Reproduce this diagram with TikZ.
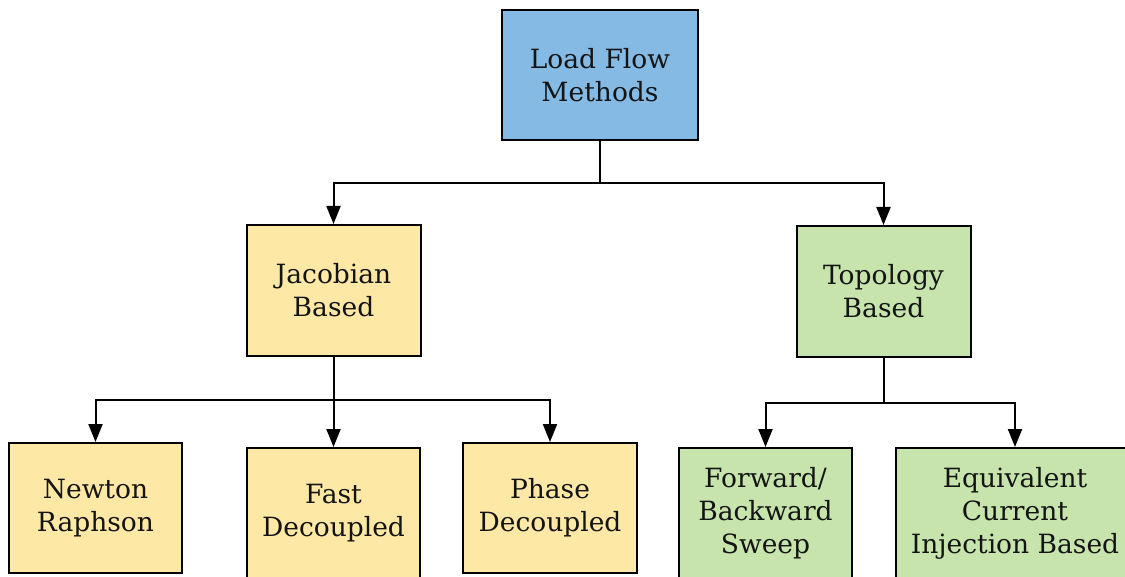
\documentclass[tikz,border=0pt]{standalone}
\usepackage{fontspec}
\setmainfont{DejaVu Serif}
\usetikzlibrary{arrows.meta}
\definecolor{cblue}{RGB}{133,186,228}
\definecolor{cyellow}{RGB}{254,232,166}
\definecolor{cgreen}{RGB}{198,228,171}
\definecolor{ctext}{RGB}{20,20,20}
\tikzset{
  box/.style={draw=black, line width=2pt, align=center, inner sep=0pt,
    font=\fontsize{26.5}{33}\selectfont, text=ctext},
  bluebox/.style={box, fill=cblue},
  yelbox/.style={box, fill=cyellow},
  grnbox/.style={box, fill=cgreen},
  conn/.style={line width=2pt, draw=black},
  arr/.style={conn, -{Triangle[length=18pt, width=14pt]}}
}
\begin{document}
\begin{tikzpicture}[x=1pt, y=-1pt]
\useasboundingbox (0,0) rectangle (1125,577);
\clip (0,0) rectangle (1125,577);
\fill[white] (0,0) rectangle (1125,577);
% nodes
\node[bluebox, minimum width=196pt, minimum height=130pt] (top) at (600,75) {Load Flow\\Methods};
\node[yelbox, minimum width=174pt, minimum height=131pt] (jac) at (333.5,290.5) {Jacobian\\Based};
\node[grnbox, minimum width=174pt, minimum height=131pt] (topo) at (883.5,291.5) {Topology\\Based};
\node[yelbox, minimum width=173pt, minimum height=130pt] (newton) at (95.5,508) {Newton\\Raphson};
\node[yelbox, minimum width=173pt, minimum height=130pt] (fast) at (333.5,513) {Fast\\Decoupled};
\node[yelbox, minimum width=174pt, minimum height=130pt] (phase) at (550,508) {Phase\\Decoupled};
\node[grnbox, minimum width=173pt, minimum height=130pt] (fwd) at (765.5,513) {Forward/\\Backward\\Sweep};
\node[grnbox, minimum width=238pt, minimum height=130pt] (eq) at (1015,513) {Equivalent\\Current\\Injection Based};
% junctions
\coordinate (j1) at (600,183);
\coordinate (j2) at (333.5,400);
\coordinate (j3) at (883.5,403);
% connectors
\draw[conn] (top.south) -- (j1);
\draw[arr] (j1) -| (jac.north);
\draw[arr] (j1) -| (topo.north);
\draw[conn] (jac.south) -- (j2);
\draw[arr] (j2) -| (newton.north);
\draw[arr] (j2) -- (fast.north);
\draw[arr] (j2) -| (phase.north);
\draw[conn] (topo.south) -- (j3);
\draw[arr] (j3) -| (fwd.north);
\draw[arr] (j3) -| (eq.north);
\end{tikzpicture}
\end{document}
